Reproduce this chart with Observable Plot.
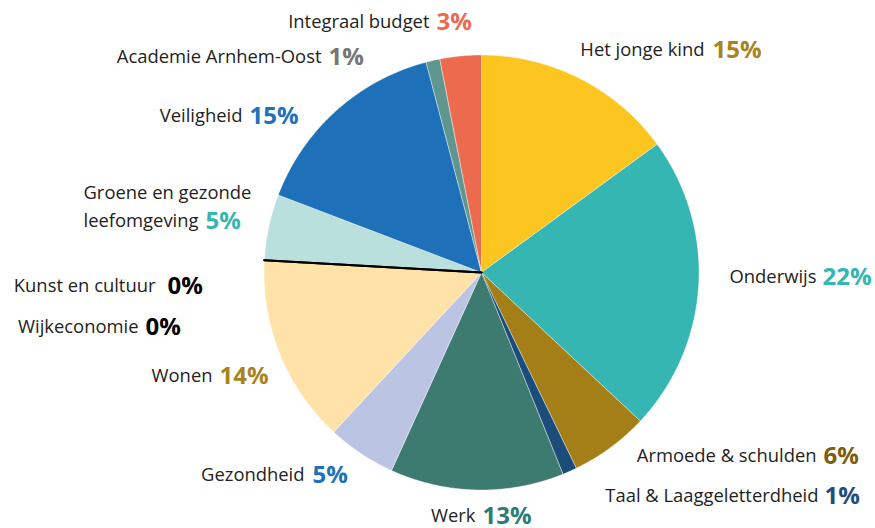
<!DOCTYPE html>
<html>
<head>
<meta charset="utf-8">
<script src="https://cdn.jsdelivr.net/npm/d3@7"></script>
<script src="https://cdn.jsdelivr.net/npm/@observablehq/plot@0.6"></script>
<style>
  html, body { margin: 0; padding: 0; background: #fff; }
  #chart svg { display: block; }
</style>
</head>
<body>
<div id="chart"></div>
<script>
// ---- data (clockwise from 12 o'clock) ----
const categories = [
  "Het jonge kind", "Onderwijs", "Armoede & schulden", "Taal & Laaggeletterdheid",
  "Werk", "Gezondheid", "Wonen", "Wijkeconomie", "Kunst en cultuur",
  "Groene en gezonde\nleefomgeving", "Veiligheid", "Academie Arnhem-Oost", "Integraal budget"
];
const shares = [14.96, 22.0, 5.85, 1.07, 12.9, 5.1, 14.0, 0, 0, 4.9, 15.1, 1.03, 3.07];
const shareLabels = ["15%", "22%", "6%", "1%", "13%", "5%", "14%", "0%", "0%", "5%", "15%", "1%", "3%"];

// ---- styles ----
const sliceColors = ["#FDC520", "#35B6B2", "#A47F18", "#1B4C7A", "#3D7A70", "#BCC4E4",
  "#FEE2A8", "#000000", "#000000", "#B9E0DD", "#1E71B8", "#5F9690", "#EC6A4E"];
const pctColors = ["#A88420", "#35B6B2", "#7B5E10", "#1F4E79", "#2E7D74", "#2171B8",
  "#A88420", "#000000", "#000000", "#35B6B2", "#2171B8", "#767676", "#EC6A4E"];

// ---- layout (pixels) ----
const W = 875, H = 528, cx = 481, cy = 272, R = 217.5;
const nameSize = 18.4, pctSize = 24;
// [name end x, percentage start x, y]
const labelLayout = [
  [704, 712, 50], [816, 822, 277], [816, 823, 456], [818, 824, 496],
  [475, 482, 516], [304, 312, 475], [212, 219, 376], [138, 145, 327],
  [155, 167, 286], [83, 205, 221], [242, 249, 116], [321, 328, 57], [429, 436, 22]
];
const toX = px => (px - cx) / R;
const toY = py => (py - cy) / R;
const lineGap = 28.5;

// ---- build slice geometry from the data ----
const rows = categories.map((name, i) => ({name, share: shares[i], label: shareLabels[i], i}));
const arcs = d3.pie().sort(null).value(d => d.share)(rows);
const pts = [];
arcs.forEach(a => {
  const d = a.data;
  const base = {name: d.name, i: d.i, zero: d.share === 0};
  pts.push({...base, x: 0, y: 0});
  const n = Math.max(1, Math.ceil((a.endAngle - a.startAngle) / (Math.PI / 360)));
  for (let k = 0; k <= n; k++) {
    const ang = a.startAngle + (a.endAngle - a.startAngle) * k / n;
    pts.push({...base, x: Math.sin(ang), y: -Math.cos(ang)});
  }
  pts.push({...base, x: 0, y: 0});
});

const labels = rows.map((d, i) => ({
  ...d,
  nx: toX(labelLayout[i][0]), px: toX(labelLayout[i][1]), y: toY(labelLayout[i][2])
}));
const single = labels.filter(d => !d.name.includes("\n"));
// multi-line names: one text row per line, left aligned, last line on the label's baseline row
const multiLines = [];
labels.filter(d => d.name.includes("\n")).forEach(d => {
  const parts = d.name.split("\n");
  parts.forEach((t, k) => multiLines.push({
    text: t, x: d.nx, y: d.y - (parts.length - 1 - k) * lineGap / R
  }));
});

const font = "'Open Sans', 'Noto Sans', sans-serif";

const chart = Plot.plot({
  width: W, height: H,
  margin: 0,
  x: {domain: [toX(0), toX(W)], range: [0, W], axis: null},
  y: {domain: [toY(0), toY(H)], range: [0, H], axis: null},
  color: {type: "identity"},
  style: {fontFamily: font, background: "#fff"},
  marks: [
    Plot.line(pts.filter(p => !p.zero), {
      x: "x", y: "y", z: "name", fill: p => sliceColors[p.i],
      stroke: "#ffffff", strokeWidth: 0.4, curve: "linear"
    }),
    Plot.line(pts.filter(p => p.zero), {
      x: "x", y: "y", z: "name", stroke: "#000000", strokeWidth: 2.2, curve: "linear"
    }),
    Plot.text(single, {
      x: "nx", y: "y", text: "name", textAnchor: "end",
      fill: "#222222", fontSize: nameSize, fontFamily: font
    }),
    Plot.text(multiLines, {
      x: "x", y: "y", text: "text", textAnchor: "start",
      fill: "#222222", fontSize: nameSize, fontFamily: font
    }),
    Plot.text(labels, {
      x: "px", y: "y", text: "label", textAnchor: "start",
      fill: d => pctColors[d.i], fontSize: pctSize, fontWeight: "bold", fontFamily: font
    })
  ]
});
document.getElementById("chart").appendChild(chart);
</script>
</body>
</html>
